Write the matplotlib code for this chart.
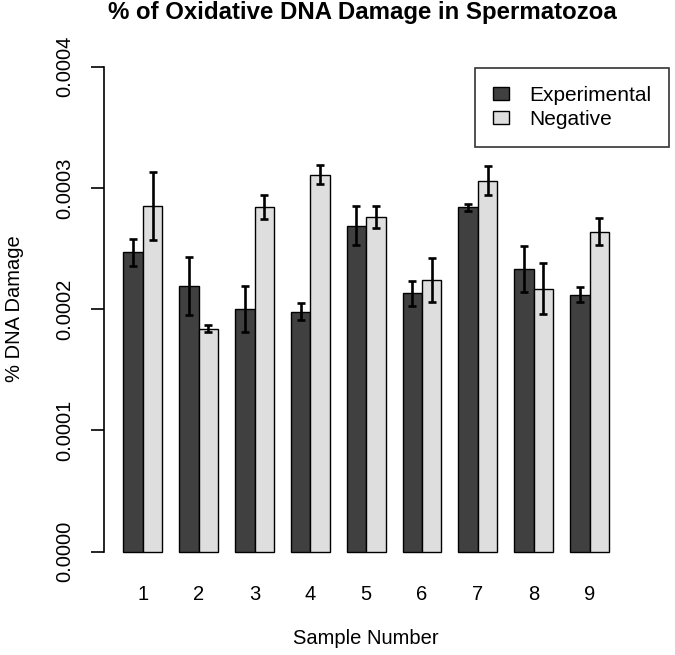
import numpy as np
import matplotlib
matplotlib.use("Agg")
import matplotlib.pyplot as plt

plt.rcParams['font.family'] = ['Liberation Sans', 'DejaVu Sans']

# Data (fraction, not percent)
samples = ['1', '2', '3', '4', '5', '6', '7', '8', '9']
experimental = [0.000247, 0.000219, 0.000200, 0.000198, 0.000269, 0.000213, 0.000284, 0.000233, 0.000212]
experimental_err = [0.000011, 0.000024, 0.000019, 0.000007, 0.000016, 0.000010, 0.000003, 0.000019, 0.000006]
negative = [0.000285, 0.000184, 0.000284, 0.000311, 0.000276, 0.000224, 0.000306, 0.000217, 0.000264]
negative_err = [0.000028, 0.000003, 0.000010, 0.000008, 0.000009, 0.000018, 0.000012, 0.000021, 0.000011]
yticks = [0.0, 0.0001, 0.0002, 0.0003, 0.0004]

dark = '#404040'
light = '#dedede'

fig = plt.figure(figsize=(6.75, 6.55), dpi=100)
ax = fig.add_axes([104 / 675, 1 - 571.1 / 655, (628.4 - 104) / 675, (571.1 - 47.3) / 655])

x = np.arange(1, len(samples) + 1)
w = 0.348
err_kw = dict(ecolor='black', elinewidth=1.9, capsize=2.8, capthick=1.9)
ax.bar(x - w / 2, experimental, w, color=dark, edgecolor='black', linewidth=1.0,
       yerr=experimental_err, error_kw=err_kw, label='Experimental')
ax.bar(x + w / 2, negative, w, color=light, edgecolor='black', linewidth=1.0,
       yerr=negative_err, error_kw=err_kw, label='Negative')

ax.set_xlim(0.304, 9.696)
ax.set_ylim(-0.000016, 0.000416)
ax.set_xticks(x)
ax.set_xticklabels(samples)
ax.set_yticks(yticks)
ax.set_yticklabels(['%.4f' % v for v in yticks], rotation=90, va='center')

for s in ['top', 'right', 'bottom']:
    ax.spines[s].set_visible(False)
ax.spines['left'].set_bounds(0, 0.0004)
ax.spines['left'].set_linewidth(1.2)

ax.tick_params(axis='x', length=0, pad=10, labelsize=14.5)
ax.tick_params(axis='y', length=9.4, width=1.2, pad=12, labelsize=14.5)

fig.text(362 / 675, 1 - 13 / 655, '% of Oxidative DNA Damage in Spermatozoa',
         ha='center', va='center', fontsize=17.3, fontweight='bold')
fig.text(366 / 675, 1 - 639 / 655, 'Sample Number', ha='center', va='center', fontsize=14.5)
fig.text(15 / 675, 1 - 309 / 655, '% DNA Damage', ha='center', va='center',
         rotation=90, fontsize=14.5)

leg = ax.legend(loc='upper right', bbox_to_anchor=(669 / 675, 1 - 68.3 / 655),
                bbox_transform=fig.transFigure, fontsize=15, frameon=True,
                fancybox=False, edgecolor='black', borderpad=0.85,
                handlelength=0.8, handleheight=0.6, handletextpad=0.95,
                labelspacing=0.25, borderaxespad=0)
leg.get_frame().set_linewidth(1.2)

fig.savefig('out.png', dpi=100)
